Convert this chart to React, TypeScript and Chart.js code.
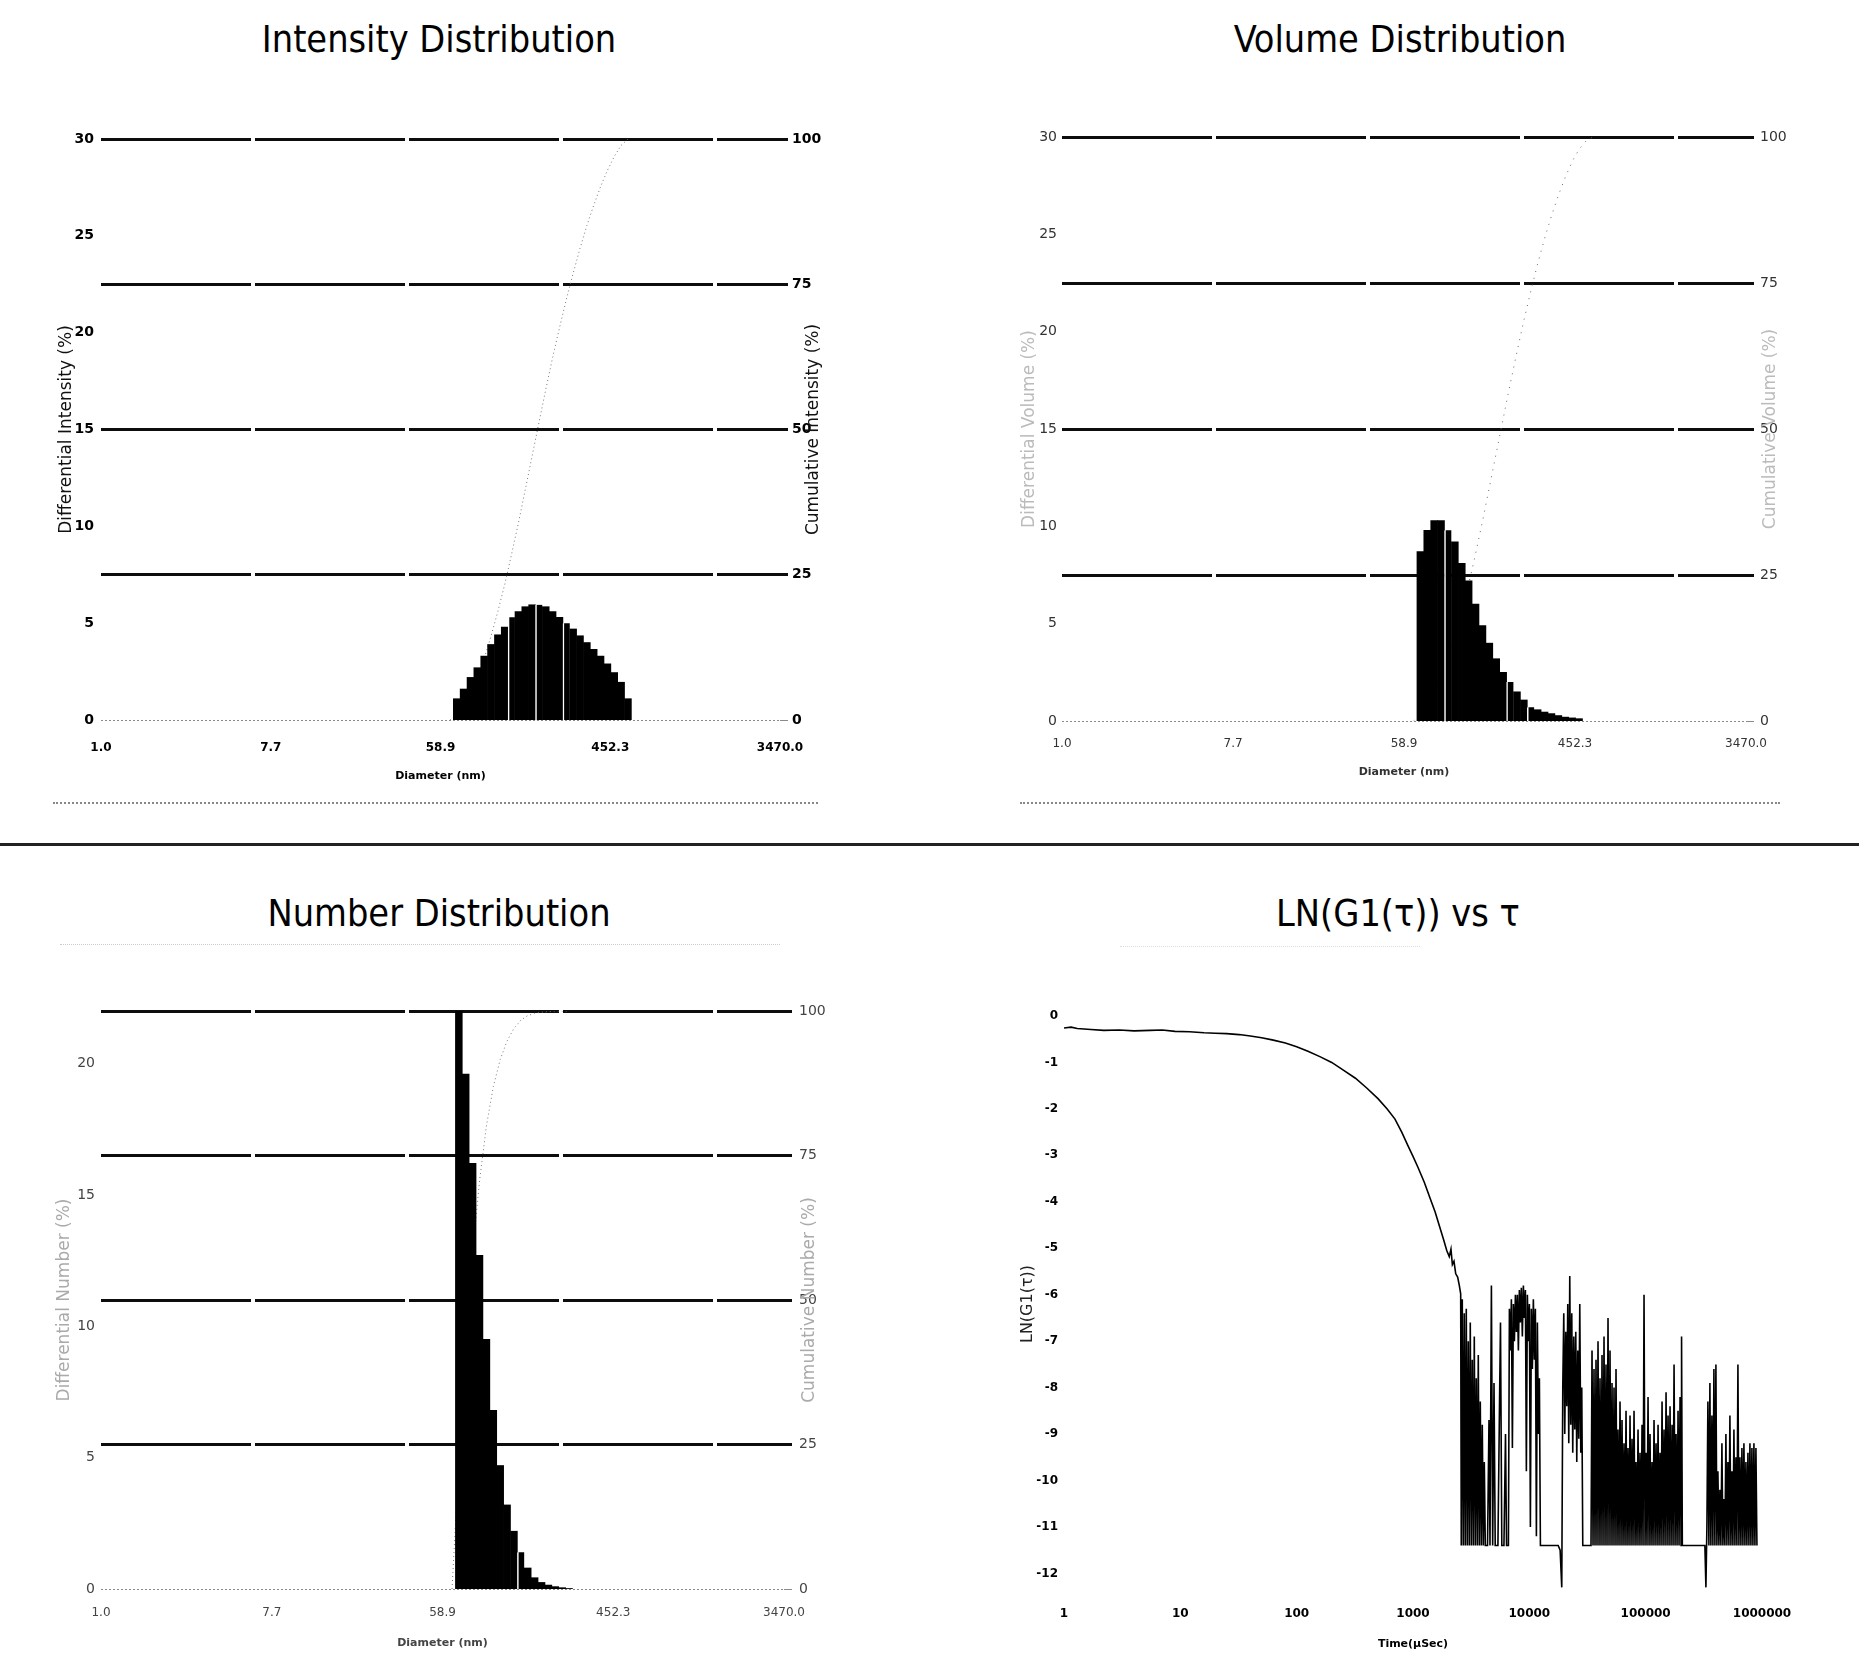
import React, { useEffect, useRef } from "react";
import { Chart, registerables } from "chart.js";

Chart.register(...registerables);

// ---------------- data ----------------
const DIAMETER_TICKS = [1, 7.68, 58.9, 452.3, 3470];
const DIAMETER_TICK_LABELS = ["1.0", "7.7", "58.9", "452.3", "3470.0"];

// bin centres (nm) shared by the three size distributions
const BIN_DIAMETERS = [
  71.6, 77.7, 84.4, 91.6, 99.5, 108.0, 117.3, 127.3, 138.2, 150.1, 162.9, 176.9, 192.1,
  208.5, 226.4, 245.8, 266.9, 289.7, 314.6, 341.5, 370.8, 402.6, 437.1, 474.5, 515.2, 559.3,
];
const CUM_START_DIAMETER = 66.0;

const INTENSITY_DIFF = [
  1.1, 1.6, 2.2, 2.7, 3.3, 3.9, 4.4, 4.8, 5.3, 5.6, 5.85, 5.95, 5.95, 5.85, 5.6, 5.3, 5.0, 4.7,
  4.35, 4.0, 3.65, 3.3, 2.9, 2.45, 1.95, 1.1,
];
const INTENSITY_CUM = [
  1.1, 2.6, 4.8, 7.4, 10.6, 14.4, 18.7, 23.3, 28.5, 33.9, 39.6, 45.4, 51.2, 56.9, 62.4, 67.5,
  72.4, 76.9, 81.2, 85.1, 88.6, 91.8, 94.6, 97.0, 98.9, 100,
];

const VOLUME_DIFF = [
  8.7, 9.8, 10.3, 10.3, 9.8, 9.2, 8.1, 7.2, 6.0, 4.9, 4.0, 3.2, 2.5, 2.0, 1.5, 1.08, 0.7, 0.58,
  0.46, 0.38, 0.28, 0.2, 0.16, 0.12,
];
const VOLUME_CUM = [
  1.0, 2.5, 4.6, 7.2, 10.4, 14.2, 18.6, 23.4, 28.6, 34.2, 40.0, 45.9, 51.8, 57.6, 63.2, 68.6,
  73.6, 78.3, 82.6, 86.5, 90.0, 93.1, 95.8, 97.9, 99.3, 100,
];

const NUMBER_DIFF = [
  22.1, 19.6, 16.2, 12.7, 9.5, 6.8, 4.7, 3.2, 2.2, 1.4, 0.8, 0.43, 0.25, 0.15, 0.09, 0.05, 0.02,
];
const NUMBER_CUM = [
  22.1, 41.7, 57.9, 70.6, 80.1, 86.9, 91.6, 94.8, 97.0, 98.4, 99.2, 99.6, 99.8, 99.9, 100, 100, 100,
];

const CUM_TICKS = [0, 25, 50, 75, 100];
const DIFF_TICKS_30 = [0, 5, 10, 15, 20, 25, 30];
const DIFF_TICKS_22 = [0, 5, 10, 15, 20];

const TAU_TICKS = [1, 10, 100, 1000, 10000, 100000, 1000000];
const TAU_TICK_LABELS = ["1", "10", "100", "1000", "10000", "100000", "1000000"];
const LN_TICKS = [0, -1, -2, -3, -4, -5, -6, -7, -8, -9, -10, -11, -12];

// smooth decay part of LN(G1(tau)) : [tau (us), ln G1]
const DECAY: [number, number][] = [
  [1, -0.26], [1.15, -0.24], [1.3, -0.27], [1.7, -0.29], [2.2, -0.31], [3, -0.3], [4, -0.32],
  [5.5, -0.31], [7, -0.3], [9, -0.33], [12, -0.34], [16, -0.36], [20, -0.37], [25, -0.38],
  [32, -0.4], [40, -0.43], [50, -0.47], [63, -0.52], [80, -0.58], [100, -0.66], [125, -0.76],
  [160, -0.88], [200, -1.0], [250, -1.16], [320, -1.34], [400, -1.55], [500, -1.78], [600, -2.0],
  [700, -2.22], [800, -2.5], [900, -2.78], [1000, -3.02], [1100, -3.25], [1250, -3.58],
  [1400, -3.92], [1550, -4.22], [1700, -4.55], [1850, -4.85], [1950, -5.05], [2050, -5.18],
  [2120, -5.02], [2180, -5.35], [2250, -5.28], [2330, -5.55], [2420, -5.62], [2500, -5.8],
  [2570, -5.98],
];

// noisy baseline part of LN(G1(tau)) : [tau (us), ln G1]
const NOISE: [number, number][] = [
  // dense block just after the decay
  [2600, -11.4], [2652, -6.1], [2705, -11.4], [2759, -6.4], [2814, -11.4], [2871, -6.3],
  [2928, -11.4], [2987, -7.0], [3046, -11.4], [3107, -6.6], [3170, -11.4], [3233, -7.4],
  [3298, -11.4], [3364, -6.9], [3431, -11.4], [3500, -7.8], [3570, -11.4], [3641, -7.3],
  [3714, -11.4], [3788, -8.3], [3864, -11.4], [3941, -8.8], [4020, -11.4], [4101, -9.6],
  [4183, -11.4],
  // isolated spikes
  [4370, -11.4], [4500, -8.7], [4590, -11.4], [4720, -5.8], [4840, -11.4], [4970, -7.9],
  [5090, -11.4], [5370, -11.4], [5510, -8.9], [5650, -6.6], [5800, -11.4], [6050, -11.4],
  [6240, -9.0], [6370, -11.4], [6610, -11.4],
  // plateau near -6
  [6740, -6.3], [6875, -7.2], [7010, -6.1], [7150, -9.3], [7290, -6.2], [7440, -7.0],
  [7590, -6.0], [7740, -6.8], [7890, -6.0], [8050, -7.2], [8210, -5.9], [8370, -6.6],
  [8540, -5.85], [8710, -6.9], [8890, -5.8], [9060, -6.5], [9250, -5.9], [9430, -9.8],
  [9620, -6.0], [9810, -7.0], [10010, -6.2], [10210, -11.0], [10410, -6.3], [10620, -7.6],
  [10830, -6.1], [11050, -7.4], [11270, -6.3], [11500, -11.2], [11730, -6.6], [11960, -9.0],
  [12200, -7.8], [12450, -11.4],
  // floor, first dip, dense block
  [17700, -11.4], [18400, -11.5], [19000, -12.3], [19380, -8.0], [19770, -6.4], [20160, -9.0],
  [20570, -6.8], [20980, -8.4], [21400, -6.2], [21830, -9.2], [22260, -5.6], [22710, -8.8],
  [23160, -6.4], [23620, -9.4], [24100, -6.9], [24580, -8.9], [25070, -6.8], [25570, -9.6],
  [26080, -7.2], [26600, -9.1], [27140, -6.2], [27680, -9.4], [28230, -8.0], [28800, -11.4],
  // long dense region
  [33900, -11.4], [34580, -7.2], [35270, -11.4], [35970, -7.6], [36690, -11.4], [37430, -7.4],
  [38170, -11.4], [38940, -7.0], [39720, -11.4], [40510, -7.8], [41320, -11.4], [42150, -7.3],
  [42990, -11.4], [43850, -6.9], [44730, -11.4], [45620, -7.5], [46530, -11.4], [47460, -6.5],
  [48410, -11.4], [49380, -7.2], [50370, -11.4], [51380, -7.9], [52400, -11.4], [53450, -8.0],
  [54520, -11.4], [55610, -7.6], [56720, -11.4], [57860, -8.9], [59010, -11.4], [60190, -8.3],
  [61400, -11.4], [62620, -8.7], [63880, -11.4], [65150, -9.2], [66460, -11.4], [67790, -8.5],
  [69140, -11.4], [70520, -9.3], [71930, -11.4], [73370, -8.6], [74840, -11.4], [76340, -9.1],
  [77860, -11.4], [79420, -8.5], [81010, -11.4], [82630, -9.6], [84280, -11.4], [85970, -8.9],
  [87690, -11.4], [89440, -9.4], [91230, -11.4], [93060, -8.8], [94920, -11.4], [96810, -6.0],
  [98750, -11.4], [100700, -9.4], [102700, -11.4], [104800, -8.2], [106900, -11.4],
  [109000, -9.0], [111200, -11.4], [113400, -9.6], [115700, -11.4], [118000, -8.7],
  [120400, -11.4], [122800, -9.2], [125300, -11.4], [127800, -8.8], [130300, -11.4],
  [132900, -9.4], [135600, -11.4], [138300, -8.3], [141100, -11.4], [143900, -8.9],
  [146800, -11.4], [149700, -8.1], [152700, -11.4], [155700, -8.6], [158900, -11.4],
  [162000, -8.4], [165300, -11.4], [168600, -8.8], [172000, -11.4], [175400, -7.5],
  [178900, -11.4], [182500, -9.0], [186100, -11.4], [189800, -8.5], [193600, -11.4],
  [197500, -8.2], [201500, -11.4], [203500, -6.9], [206600, -11.4],
  // floor, second dip, last dense region
  [322800, -11.4], [329600, -12.3], [336000, -11.0], [342700, -8.3], [349600, -11.4],
  [356600, -7.9], [363700, -11.4], [371000, -8.6], [378400, -11.4], [386000, -7.6],
  [393700, -11.4], [401600, -7.5], [409600, -11.4], [417800, -9.8], [426200, -11.4],
  [434700, -10.2], [443400, -11.4], [452300, -9.2], [461300, -11.4], [470500, -10.4],
  [479900, -11.4], [489500, -9.0], [499300, -11.4], [509300, -9.6], [519500, -11.4],
  [529900, -8.6], [540500, -11.4], [551300, -9.8], [562400, -11.4], [573600, -8.9],
  [585100, -11.4], [596800, -9.5], [608700, -11.4], [620900, -7.5], [633300, -11.4],
  [646000, -9.5], [658900, -11.4], [672100, -9.3], [685500, -11.4], [699200, -9.2],
  [713200, -11.4], [727500, -9.6], [742000, -11.4], [756900, -9.4], [772000, -11.4],
  [787400, -9.2], [803200, -11.4], [819200, -9.3], [835600, -11.4], [852300, -9.2],
  [869400, -11.4], [886800, -9.3], [904500, -11.4],
];

// ---------------- helpers ----------------
const FONT = '"DejaVu Sans", "Noto Sans", sans-serif';
const TITLE_FONT = '"DejaVu Sans Condensed", "DejaVu Sans", sans-serif';

const sideTitlePlugin = {
  id: "sideTitle",
  afterDraw(chart: any, _args: any, opts: any) {
    if (!opts || !opts.text) return;
    const { ctx, chartArea } = chart;
    ctx.save();
    ctx.translate(chartArea.right + opts.offset, (chartArea.top + chartArea.bottom) / 2);
    ctx.rotate(-Math.PI / 2);
    ctx.font = opts.font;
    ctx.fillStyle = opts.color;
    ctx.textAlign = "center";
    ctx.textBaseline = "middle";
    ctx.fillText(opts.text, 0, 0);
    ctx.restore();
  },
};

type Geom = {
  top: number; leftW: number; rightW: number; xH: number;
  leftPad: number; rightPad: number; xPad: number;
  leftTitlePad: number; rightTitleOffset: number; xTitlePad: number;
};

type DistSpec = {
  diff: number[]; cum: number[]; leftMax: number; leftTicks: number[];
  leftTitle: string; rightTitle: string; geom: Geom; splitBars: number[];
  tickColor: string; tickWeight: string; sideTitleColor: string; xTitleColor: string;
  cumColor: string; cumDash: number[];
};

const isZero = (ctx: any) => !!ctx.tick && ctx.tick.value === 0;

function buildDistChart(canvas: HTMLCanvasElement, s: DistSpec) {
  const g = s.geom;
  const bars = s.diff.map((v, i) => ({ x: BIN_DIAMETERS[i], y: v }));
  const cumLine = [{ x: CUM_START_DIAMETER, y: 0 }].concat(
    s.cum.map((v, i) => ({ x: BIN_DIAMETERS[i], y: v }))
  );
  const yTickFont = { family: FONT, size: 14, weight: s.tickWeight as any };
  const xTickFont = { family: FONT, size: 12, weight: s.tickWeight as any };
  return new Chart(canvas, {
    type: "bar",
    data: {
      datasets: [
        {
          type: "bar", data: bars as any, yAxisID: "y", backgroundColor: "#000",
          borderColor: "#fff",
          borderWidth: (ctx: any) => (s.splitBars.indexOf(ctx.dataIndex) >= 0 ? { left: 1.5, right: 0, top: 0, bottom: 0 } : 0),
          borderSkipped: false,
          barPercentage: 1, categoryPercentage: 1, order: 1,
        } as any,
        {
          type: "line", data: cumLine as any, yAxisID: "y1", borderColor: s.cumColor, borderWidth: 1,
          borderDash: s.cumDash, pointRadius: 0, tension: 0, fill: false, order: 2,
        } as any,
      ],
    },
    options: {
      responsive: false, animation: false, events: [],
      layout: { padding: { top: g.top, left: 0, right: 0, bottom: 0 } },
      plugins: {
        legend: { display: false }, tooltip: { enabled: false },
        sideTitle: { text: s.rightTitle, offset: g.rightTitleOffset, font: `17px ${FONT}`, color: s.sideTitleColor },
      } as any,
      scales: {
        x: {
          type: "logarithmic", min: 1, max: 3470, offset: false,
          grid: { display: false, drawTicks: false, offset: false }, border: { display: false },
          afterBuildTicks: (sc: any) => { sc.ticks = DIAMETER_TICKS.map((v) => ({ value: v })); },
          afterFit: (sc: any) => { sc.height = g.xH; },
          ticks: {
            autoSkip: false, maxRotation: 0, minRotation: 0, padding: g.xPad, font: xTickFont, color: s.tickColor,
            callback: (_v: any, i: number) => DIAMETER_TICK_LABELS[i],
          },
          title: {
            display: true, text: "Diameter (nm)", color: s.xTitleColor,
            font: { family: FONT, size: 11, weight: "bold" }, padding: { top: 0, bottom: g.xTitlePad },
          },
        } as any,
        y: {
          position: "left", min: 0, max: s.leftMax,
          grid: { display: false, drawTicks: false }, border: { display: false },
          afterBuildTicks: (sc: any) => { sc.ticks = s.leftTicks.map((v) => ({ value: v })); },
          afterFit: (sc: any) => { sc.width = g.leftW; },
          ticks: { padding: g.leftPad, font: yTickFont, color: s.tickColor },
          title: {
            display: true, text: s.leftTitle, color: s.sideTitleColor,
            font: { family: FONT, size: 17 }, padding: { top: g.leftTitlePad, bottom: 0 },
          },
        } as any,
        y1: {
          position: "right", min: 0, max: 100,
          grid: {
            drawOnChartArea: true, drawTicks: true, tickLength: 8,
            color: (ctx: any) => (isZero(ctx) ? "#8a8a8a" : "#0d0d0d"),
            lineWidth: (ctx: any) => (isZero(ctx) ? 1 : 3),
            tickColor: (ctx: any) => (isZero(ctx) ? "#8a8a8a" : "#0d0d0d"),
            tickWidth: (ctx: any) => (isZero(ctx) ? 1 : 3),
          },
          border: { display: false, dash: (ctx: any) => (isZero(ctx) ? [2, 2] : [150, 4]) },
          afterBuildTicks: (sc: any) => { sc.ticks = CUM_TICKS.map((v) => ({ value: v })); },
          afterFit: (sc: any) => { sc.width = g.rightW; },
          ticks: { padding: g.rightPad, font: yTickFont, color: s.tickColor },
        } as any,
      },
    },
    plugins: [sideTitlePlugin as any],
  });
}

function buildCorrChart(canvas: HTMLCanvasElement) {
  const pts = DECAY.concat(NOISE).map(([x, y]) => ({ x, y }));
  const tickFont = { family: FONT, size: 12, weight: "bold" as any };
  return new Chart(canvas, {
    type: "line",
    data: {
      datasets: [
        { data: pts as any, borderColor: "#000", borderWidth: 1.6, pointRadius: 0, tension: 0, fill: false } as any,
      ],
    },
    options: {
      responsive: false, animation: false, events: [],
      layout: { padding: { top: 56, left: 0, right: 58, bottom: 0 } },
      plugins: { legend: { display: false }, tooltip: { enabled: false } },
      scales: {
        x: {
          type: "logarithmic", min: 1, max: 1000000,
          grid: { display: false, drawTicks: false }, border: { display: false },
          afterBuildTicks: (sc: any) => { sc.ticks = TAU_TICKS.map((v) => ({ value: v })); },
          afterFit: (sc: any) => { sc.height = 74; },
          ticks: {
            autoSkip: false, maxRotation: 0, minRotation: 0, padding: 15, font: tickFont, color: "#000",
            callback: (_v: any, i: number) => TAU_TICK_LABELS[i],
          },
          title: {
            display: true, text: "Time(μSec)", color: "#000",
            font: { family: FONT, size: 11, weight: "bold" }, padding: { top: 0, bottom: 14.8 },
          },
        } as any,
        y: {
          min: -12.4, max: 0,
          grid: { display: false, drawTicks: false }, border: { display: false },
          afterBuildTicks: (sc: any) => { sc.ticks = LN_TICKS.map((v) => ({ value: v })); },
          afterFit: (sc: any) => { sc.width = 64; },
          ticks: { padding: 6, font: tickFont, color: "#000" },
          title: {
            display: true, text: "LN(G1(τ))", color: "#222",
            font: { family: FONT, size: 16 }, padding: { top: 18.5, bottom: 0 },
          },
        } as any,
      },
    },
  });
}

const PANELS: DistSpec[] = [
  {
    diff: INTENSITY_DIFF, cum: INTENSITY_CUM, leftMax: 30, leftTicks: DIFF_TICKS_30,
    leftTitle: "Differential Intensity (%)", rightTitle: "Cumulative Intensity (%)",
    geom: { top: 39, leftW: 61, rightW: 60, xH: 100, leftPad: 7, rightPad: 4, xPad: 21, leftTitlePad: 16, rightTitleOffset: 34, xTitlePad: 36.8 },
    splitBars: [8, 12, 16],
    tickColor: "#000", tickWeight: "bold", sideTitleColor: "#111", xTitleColor: "#000",
    cumColor: "#777", cumDash: [1, 3],
  },
  {
    diff: VOLUME_DIFF, cum: VOLUME_CUM, leftMax: 30, leftTicks: DIFF_TICKS_30,
    leftTitle: "Differential Volume (%)", rightTitle: "Cumulative Volume (%)",
    geom: { top: 37, leftW: 62, rightW: 74, xH: 99, leftPad: 5, rightPad: 6, xPad: 16, leftTitlePad: 19, rightTitleOffset: 25, xTitlePad: 40.8 },
    splitBars: [4, 13, 16],
    tickColor: "#333", tickWeight: "normal", sideTitleColor: "#bbb", xTitleColor: "#333",
    cumColor: "#666", cumDash: [1, 6],
  },
  {
    diff: NUMBER_DIFF, cum: NUMBER_CUM, leftMax: 22, leftTicks: DIFF_TICKS_22,
    leftTitle: "Differential Number (%)", rightTitle: "Cumulative Number (%)",
    geom: { top: 51, leftW: 61, rightW: 56, xH: 77, leftPad: 6, rightPad: 7, xPad: 17, leftTitlePad: 14.5, rightTitleOffset: 26, xTitlePad: 15.8 },
    splitBars: [9],
    tickColor: "#444", tickWeight: "normal", sideTitleColor: "#aaa", xTitleColor: "#444",
    cumColor: "#777", cumDash: [1, 3],
  },
];

const titleStyle = (cx: number, top: number): React.CSSProperties => ({
  position: "absolute", left: cx - 300, width: 600, top, textAlign: "center",
  fontFamily: TITLE_FONT, fontStretch: "condensed", fontSize: 37.5, lineHeight: "38px",
  color: "#000", whiteSpace: "nowrap",
});

const canvasStyle = (left: number, top: number, w: number, h: number): React.CSSProperties => ({
  position: "absolute", left, top, width: w, height: h, display: "block",
});

export default function App() {
  const c1 = useRef<HTMLCanvasElement>(null);
  const c2 = useRef<HTMLCanvasElement>(null);
  const c3 = useRef<HTMLCanvasElement>(null);
  const c4 = useRef<HTMLCanvasElement>(null);

  useEffect(() => {
    const charts = [
      buildDistChart(c1.current!, PANELS[0]),
      buildDistChart(c2.current!, PANELS[1]),
      buildDistChart(c3.current!, PANELS[2]),
      buildCorrChart(c4.current!),
    ];
    return () => charts.forEach((c) => c.destroy());
  }, []);

  return (
    <div style={{ position: "fixed", left: 0, top: 0, width: 1859, height: 1666, background: "#fff", overflow: "hidden" }}>
      <div style={titleStyle(439, 20)}>Intensity Distribution</div>
      <div style={titleStyle(1400, 20)}>Volume Distribution</div>
      <div style={titleStyle(439, 894)}>Number Distribution</div>
      <div style={titleStyle(1398, 894)}>LN(G1(τ)) vs τ</div>

      <canvas ref={c1} width={800} height={720} style={canvasStyle(40, 100, 800, 720)} />
      <canvas ref={c2} width={820} height={720} style={canvasStyle(1000, 100, 820, 720)} />
      <canvas ref={c3} width={800} height={706} style={canvasStyle(40, 960, 800, 706)} />
      <canvas ref={c4} width={820} height={706} style={canvasStyle(1000, 960, 820, 706)} />

      <div style={{ position: "absolute", left: 53, top: 802, width: 765, borderTop: "2px dotted #888" }} />
      <div style={{ position: "absolute", left: 1020, top: 802, width: 760, borderTop: "2px dotted #888" }} />
      <div style={{ position: "absolute", left: 0, top: 843, width: 1859, height: 3, background: "#222" }} />
      <div style={{ position: "absolute", left: 60, top: 944, width: 720, borderTop: "1px dotted #ccc" }} />
      <div style={{ position: "absolute", left: 1120, top: 946, width: 300, borderTop: "1px dotted #ddd" }} />
    </div>
  );
}
